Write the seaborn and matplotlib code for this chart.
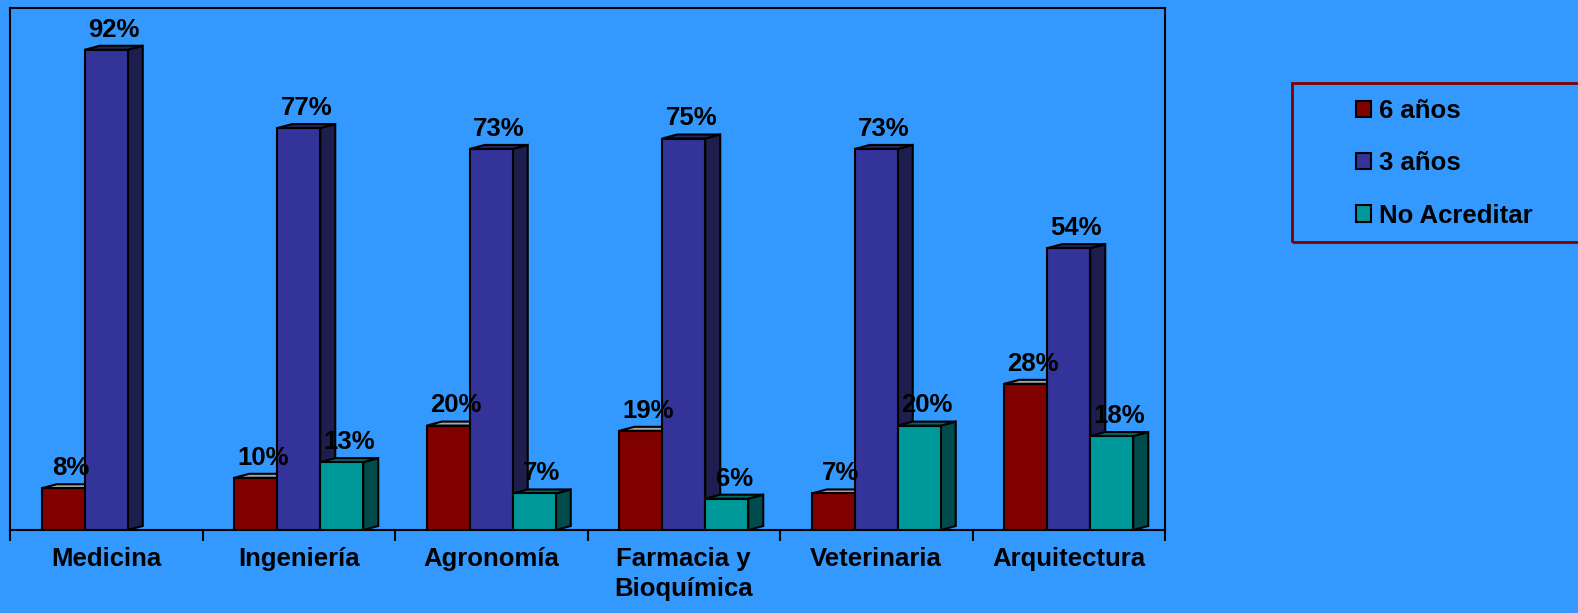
import numpy as np
import pandas as pd
import matplotlib
matplotlib.use("Agg")
import matplotlib.pyplot as plt
import seaborn as sns
from matplotlib.patches import Polygon, Patch, Rectangle

# datos
carreras = ["Medicina", "Ingeniería", "Agronomía", "Farmacia y\nBioquímica",
            "Veterinaria", "Arquitectura"]
series = ["6 años", "3 años", "No Acreditar"]
seis_anos = [8, 10, 20, 19, 7, 28]
tres_anos = [92, 77, 73, 75, 73, 54]
no_acreditar = [None, 13, 7, 6, 20, 18]

FONDO = "#3399FF"
colores = {"6 años": "#800000", "3 años": "#333399", "No Acreditar": "#009999"}
lateral = {"6 años": "#400000", "3 años": "#1E1E4E", "No Acreditar": "#004C4C"}
superior = {"6 años": "#A8A8A8", "3 años": "#25255F", "No Acreditar": "#006A6A"}
TAM = 18.5

filas = []
for serie, vals in zip(series, [seis_anos, tres_anos, no_acreditar]):
    for c, v in zip(carreras, vals):
        if v is not None:
            filas.append({"Carrera": c, "Serie": serie, "Valor": v})
df = pd.DataFrame(filas)

sns.set_theme(style="white")
plt.rcParams["font.family"] = ["Liberation Sans", "DejaVu Sans"]
plt.rcParams["font.weight"] = "bold"
plt.rcParams["text.color"] = "black"
plt.rcParams["xtick.color"] = "black"
plt.rcParams["xtick.labelcolor"] = "black"

fig = plt.figure(figsize=(15.78, 6.13), dpi=100, facecolor=FONDO)
ax = fig.add_axes([10 / 1578, 1 - 530 / 613, (1165 - 10) / 1578, (530 - 8) / 613])
ax.set_facecolor(FONDO)

sns.barplot(data=df, x="Carrera", y="Valor", hue="Serie", order=carreras,
            hue_order=series, palette=colores, width=0.67, saturation=1,
            edgecolor="black", linewidth=1.5, legend=False, ax=ax, errorbar=None)

ax.set_xlim(-0.5, len(carreras) - 0.5)
ax.set_ylim(0, 100)

# efecto 3D
dx = 15 / 192.5
dy = 4 / 5.22
for serie, cont in zip(series, ax.containers):
    for barra in cont:
        x0 = barra.get_x()
        w = barra.get_width()
        h = barra.get_height()
        x1 = x0 + w
        barra.set_zorder(3)
        lado = Polygon([(x1, 0), (x1, h), (x1 + dx, h + dy), (x1 + dx, dy)],
                       closed=True, facecolor=lateral[serie], edgecolor="black",
                       linewidth=1.5, zorder=1)
        tapa = Polygon([(x0, h), (x1, h), (x1 + dx, h + dy), (x0 + dx, h + dy)],
                       closed=True, facecolor=superior[serie], edgecolor="black",
                       linewidth=1.5, zorder=2)
        ax.add_patch(lado)
        ax.add_patch(tapa)
        ax.annotate(f"{h:.0f}%", (x0 + w / 2 + dx / 2, h + dy),
                    xytext=(0, 3), textcoords="offset points",
                    ha="center", va="bottom", fontsize=TAM, fontweight="bold",
                    color="black", zorder=5, annotation_clip=False)

# ejes
for s in ax.spines.values():
    s.set_color("black")
    s.set_linewidth(1.5)
ax.set_yticks([])
ax.set_xticks(np.arange(-0.5, len(carreras)), labels=[""] * (len(carreras) + 1))
ax.set_xticks(np.arange(len(carreras)), labels=carreras, minor=True)
ax.tick_params(axis="x", which="major", length=8, width=1.5, color="black",
               direction="out", bottom=True)
ax.tick_params(axis="x", which="minor", length=0, pad=12, labelsize=TAM,
               labelcolor="black")
for t in ax.get_xticklabels(minor=True):
    t.set_fontweight("bold")
    t.set_linespacing(1.35)
ax.set_xlabel("")
ax.set_ylabel("")

# leyenda
fig.patches.append(Rectangle((1292 / 1578, 1 - 242 / 613), 0.25, 159 / 613,
                             transform=fig.transFigure, facecolor="none",
                             edgecolor="#800000", linewidth=2))
handles = [Patch(facecolor=colores[s], edgecolor="black", linewidth=1.5) for s in series]
leg = fig.legend(handles, series, loc="upper left",
                 bbox_to_anchor=(1356 / 1578, 1 - 99 / 613), frameon=False,
                 prop={"weight": "bold", "size": TAM},
                 handlelength=0.6, handleheight=0.6, handletextpad=0.3,
                 labelspacing=1.1, borderpad=0, borderaxespad=0)
for t in leg.get_texts():
    t.set_color("black")

fig.savefig("out.png", dpi=100, facecolor=FONDO)
